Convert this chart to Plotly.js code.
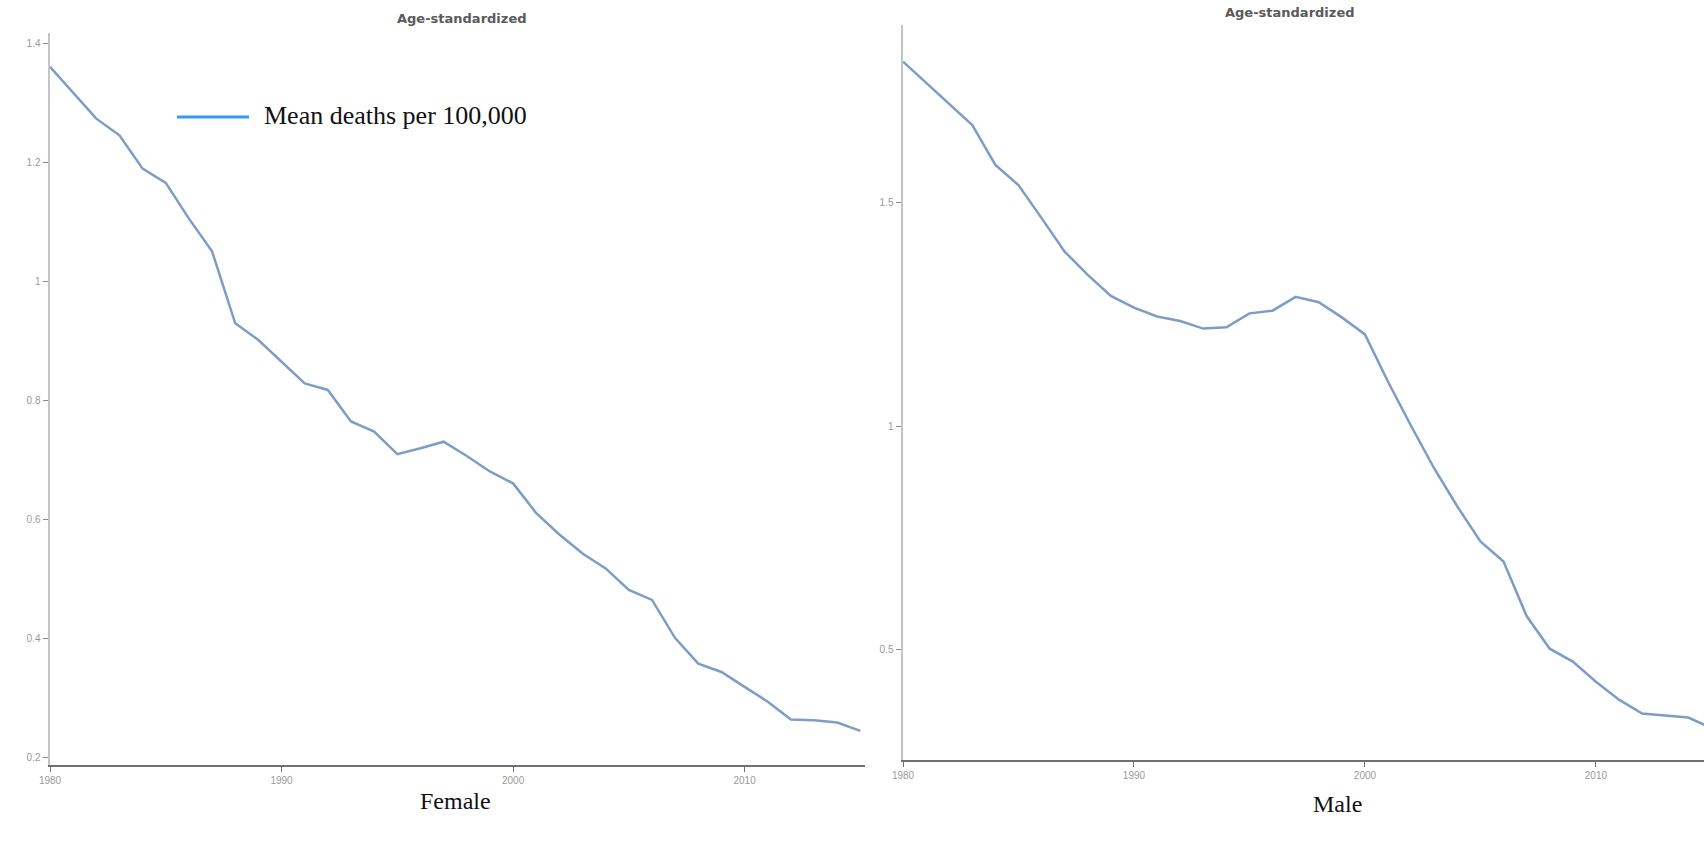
<!DOCTYPE html>
<html>
<head>
<meta charset="utf-8">
<script src="https://cdn.plot.ly/plotly-3.0.1.min.js"></script>
<style>
html,body{margin:0;padding:0;background:#ffffff;overflow:hidden}
#chart{width:1704px;height:844px}
</style>
</head>
<body>
<div id="chart"></div>
<script>
// ---- data ----
const years = [1980,1981,1982,1983,1984,1985,1986,1987,1988,1989,
               1990,1991,1992,1993,1994,1995,1996,1997,1998,1999,
               2000,2001,2002,2003,2004,2005,2006,2007,2008,2009,
               2010,2011,2012,2013,2014,2015];
const femaleRate = [1.360,1.317,1.273,1.245,1.189,1.165,1.105,1.050,0.929,0.901,
                    0.864,0.828,0.817,0.764,0.747,0.709,0.719,0.730,0.706,0.680,
                    0.660,0.610,0.574,0.542,0.517,0.481,0.464,0.400,0.357,0.343,
                    0.318,0.293,0.263,0.262,0.258,0.244];
const maleRate = [1.815,1.768,1.721,1.673,1.584,1.539,1.465,1.390,1.338,1.291,
                  1.265,1.245,1.235,1.218,1.221,1.252,1.258,1.289,1.277,1.243,
                  1.205,1.099,1.000,0.905,0.820,0.742,0.697,0.575,0.502,0.473,
                  0.428,0.388,0.357,0.353,0.348,0.325];
const femaleYTicks = [0.2,0.4,0.6,0.8,1,1.2,1.4];
const femaleYLabels = ["0.2","0.4","0.6","0.8","1","1.2","1.4"];
const maleYTicks = [0.5,1,1.5];
const maleYLabels = ["0.5","1","1.5"];
const xTicks = [1980,1990,2000,2010];
const xLabels = ["1980","1990","2000","2010"];
const panelTitle = "Age-standardized";
const legendLabel = "Mean deaths per 100,000";
const panelCaptions = ["Female","Male"];

// ---- layout helpers (pixel -> paper) ----
const W = 1704, H = 844;
const px = v => v / W;
const py = v => (H - v) / H;

const lineColor = "#7d9dc6";
const tickFont = {family: "Liberation Sans, Arial, sans-serif", size: 10, color: "#9a9a9a"};

function xAxis(domain, range) {
  return {
    domain: domain, range: range, tickvals: xTicks, ticktext: xLabels,
    showgrid: false, zeroline: false, showline: true, linecolor: "#707070", linewidth: 2,
    ticks: "outside", ticklen: 5, tickcolor: "#707070", tickwidth: 1,
    tickfont: tickFont, fixedrange: true
  };
}
function yAxis(domain, range, tv, tt, anchor) {
  return {
    domain: domain, range: range, tickvals: tv, ticktext: tt, anchor: anchor,
    showgrid: false, zeroline: false, showline: true, linecolor: "#c4c4c4", linewidth: 2.5,
    ticks: "outside", ticklen: 5, tickcolor: "#8a8a8a", tickwidth: 1,
    tickfont: tickFont, fixedrange: true
  };
}

const traces = [
  {x: years, y: femaleRate, type: "scatter", mode: "lines", xaxis: "x", yaxis: "y",
   line: {color: lineColor, width: 2.5}, showlegend: false, hoverinfo: "skip"},
  {x: years, y: maleRate, type: "scatter", mode: "lines", xaxis: "x2", yaxis: "y2",
   line: {color: lineColor, width: 2.5}, showlegend: false, hoverinfo: "skip"}
];

const layout = {
  width: W, height: H,
  margin: {l: 0, r: 0, t: 0, b: 0, pad: 0},
  paper_bgcolor: "#ffffff", plot_bgcolor: "#ffffff",
  showlegend: false,
  xaxis: Object.assign(xAxis([px(50), px(865)], [1980, 2015.2]), {anchor: "y"}),
  yaxis: yAxis([py(765), py(33)], [0.1866, 1.417], femaleYTicks, femaleYLabels, "x"),
  xaxis2: Object.assign(xAxis([px(903), 1], [1980, 2014.68]), {anchor: "y2"}),
  yaxis2: yAxis([py(760), py(25)], [0.253, 1.897], maleYTicks, maleYLabels, "x2"),
  shapes: [
    {type: "line", xref: "paper", yref: "paper", x0: px(177), x1: px(249), y0: py(117), y1: py(117),
     line: {color: "#3399ff", width: 3}}
  ],
  annotations: [
    {xref: "paper", yref: "paper", x: px(462), y: py(18), text: "<b>" + panelTitle + "</b>",
     showarrow: false, xanchor: "center", yanchor: "middle",
     font: {family: "DejaVu Sans, sans-serif", size: 13, color: "#5a5a5a"}},
    {xref: "paper", yref: "paper", x: px(1290), y: py(13), text: "<b>" + panelTitle + "</b>",
     showarrow: false, xanchor: "center", yanchor: "middle",
     font: {family: "DejaVu Sans, sans-serif", size: 13, color: "#5a5a5a"}},
    {xref: "paper", yref: "paper", x: px(262), y: py(116), text: legendLabel,
     showarrow: false, xanchor: "left", yanchor: "middle",
     font: {family: "Liberation Serif, Times New Roman, serif", size: 26, color: "#111111"}},
    {xref: "paper", yref: "paper", x: px(456), y: py(801), text: panelCaptions[0],
     showarrow: false, xanchor: "center", yanchor: "middle",
     font: {family: "Liberation Serif, Times New Roman, serif", size: 24, color: "#111111"}},
    {xref: "paper", yref: "paper", x: px(1337), y: py(804), text: panelCaptions[1],
     showarrow: false, xanchor: "center", yanchor: "middle",
     font: {family: "Liberation Serif, Times New Roman, serif", size: 24, color: "#111111"}}
  ]
};

Plotly.newPlot("chart", traces, layout, {displayModeBar: false, staticPlot: true, responsive: false});
</script>
</body>
</html>
